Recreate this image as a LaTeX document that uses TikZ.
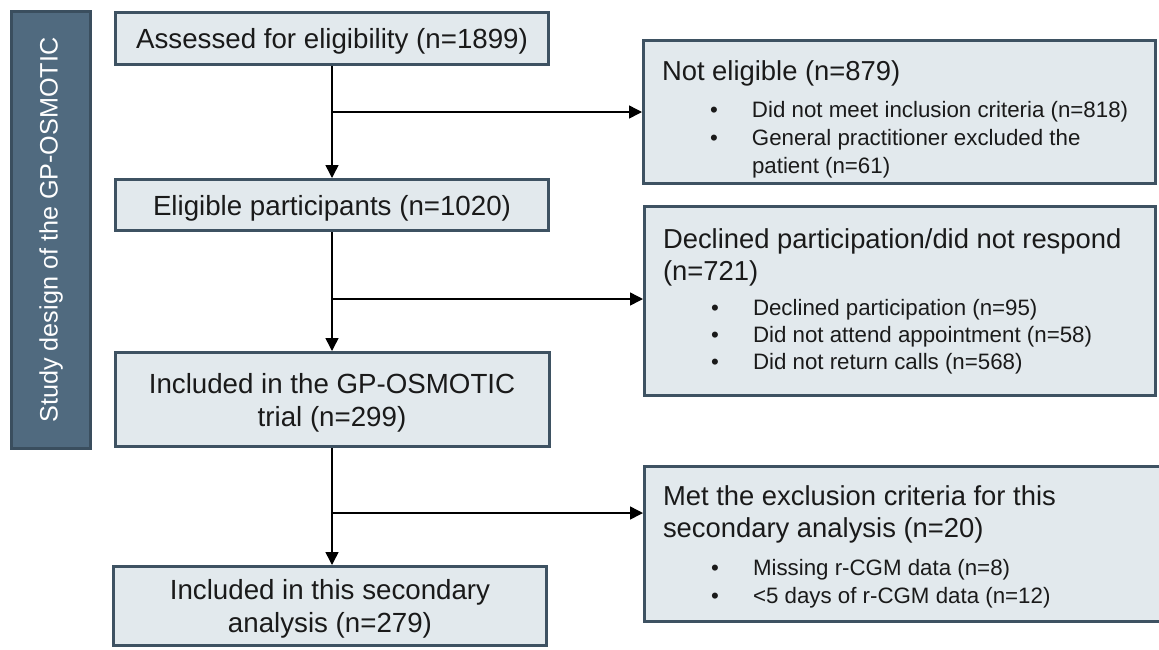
\documentclass[tikz,border=0pt]{standalone}
\usepackage{fontspec}
\setmainfont{Liberation Sans}
\usetikzlibrary{arrows.meta}
\setlength{\parindent}{0pt}
\definecolor{boxfill}{RGB}{226,233,237}
\definecolor{boxline}{RGB}{62,82,98}
\definecolor{sidefill}{RGB}{80,106,127}
\definecolor{sideline}{RGB}{58,78,94}
\definecolor{ink}{RGB}{26,26,26}
\newcommand{\hd}{\fontsize{27.4}{32}\selectfont\spaceskip=0pt\xspaceskip=0pt\relax}
\newcommand{\mn}{\fontsize{27.7}{32}\selectfont\spaceskip=0pt\xspaceskip=0pt\relax}
\newcommand{\bl}[1][27]{\fontsize{22.3}{#1}\selectfont\spaceskip=0pt\xspaceskip=0pt\relax}
\newcommand{\bitem}[1]{\par\hspace*{48pt}\makebox[42pt][l]{\textbullet}#1}
\newcommand{\bcont}[1]{\par\hspace*{90pt}#1}
\begin{document}
\begin{tikzpicture}[x=1pt,y=-1pt,
  mainbox/.style={draw=boxline, fill=boxfill, line width=3pt, text=ink, align=center, font=\mn, inner sep=0pt, text depth=0pt},
  sidebox/.style={draw=sideline, fill=sidefill, line width=3pt, text=white, font=\fontsize{25.2}{30}\selectfont, inner sep=0pt},
  rbox/.style={draw=boxline, fill=boxfill, line width=3pt, text=ink, align=flush left, font=\hd, inner xsep=18.5pt, inner ysep=0pt, anchor=west},
  arr/.style={-{Triangle[length=13pt,width=13pt]}, line width=1.5pt, draw=black}]
\clip (0,0) rectangle (1159,649);
\fill[white] (0,0) rectangle (1159,649);
\node[sidebox, rotate=90, minimum width=437pt, minimum height=79pt] (side) at (51,230) {Study design of the GP-OSMOTIC};
\node[mainbox, minimum width=433pt, minimum height=52pt] (b1) at (332,38.5) {\mn Assessed for eligibility (n=1899)};
\node[mainbox, minimum width=433pt, minimum height=51pt] (b2) at (332,205) {\mn Eligible participants (n=1020)};
\node[mainbox, minimum width=434pt, minimum height=94pt] (b5) at (332,399.5) {\mn Included in the GP-OSMOTIC\\[1pt]trial (n=299)};
\node[mainbox, minimum width=433pt, minimum height=79pt] (b6) at (330,606) {\mn Included in this secondary\\[1pt]analysis (n=279)};
\node[rbox, text width=475pt, minimum width=512pt, minimum height=143pt] (b3) at (642,112) {{\hd\rule{0pt}{34pt}Not eligible (n=879)\par}\vspace{9pt}\bl[28]
  \bitem{Did not meet inclusion criteria (n=818)}
  \bitem{General practitioner excluded the}
  \bcont{patient (n=61)}\par};
\node[rbox, text width=474pt, minimum width=511pt, minimum height=189pt] (b4) at (643,301) {{\hd Declined participation/did not respond\par (n=721)\par}\vspace{8pt}\bl
  \bitem{Declined participation (n=95)}
  \bitem{Did not attend appointment (n=58)}
  \bitem{Did not return calls (n=568)}\par};
\node[rbox, text width=503pt, minimum width=540pt, minimum height=155pt] (b7) at (643,544) {{\hd\rule{0pt}{25pt}Met the exclusion criteria for this\par secondary analysis (n=20)\par}\vspace{10pt}\bl[28]
  \bitem{Missing r-CGM data (n=8)}
  \bitem{<5 days of r-CGM data (n=12)}\par};
\coordinate (j1) at (332,112);
\coordinate (j2) at (332,299);
\coordinate (j3) at (332,513);
\draw[arr] (b1.south) -- (b2.north);
\draw[arr] (b2.south) -- (b5.north);
\draw[arr] (b5.south) -- (b5.south |- b6.north);
\draw[arr] (j1) -- (j1 -| b3.west);
\draw[arr] (j2) -- (j2 -| b4.west);
\draw[arr] (j3) -- (j3 -| b7.west);
\end{tikzpicture}
\end{document}
